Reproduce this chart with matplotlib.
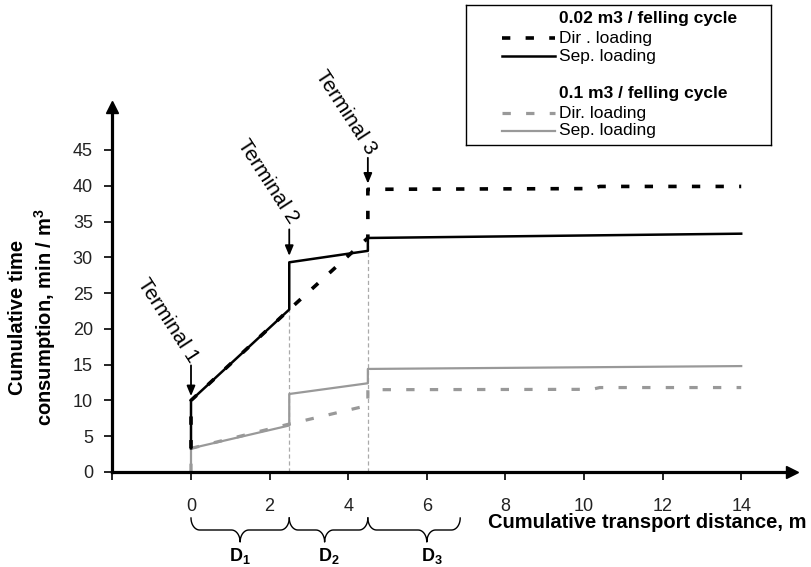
import numpy as np
import matplotlib
matplotlib.use('Agg')
import matplotlib.pyplot as plt
import matplotlib.transforms as mtransforms

plt.rcParams['font.family'] = ['Liberation Sans', 'DejaVu Sans']
plt.rcParams['mathtext.fontset'] = 'custom'
plt.rcParams['mathtext.rm'] = 'Liberation Sans'
plt.rcParams['mathtext.bf'] = 'Liberation Sans:bold'
plt.rcParams['lines.scale_dashes'] = False

# --- data (cumulative distance, m / cumulative time, min/m3) ---
x_sep = [0, 0, 2.5, 2.5, 4.5, 4.5, 14]
y_sep_002 = [3.3, 10, 22.7, 29.3, 30.9, 32.7, 33.3]
y_sep_01 = [0, 3.3, 6.5, 10.9, 12.4, 14.4, 14.8]

x_dir = [0, 0, 2.5, 4.5, 4.5, 10.2, 10.4, 14]
y_dir_002 = [3.3, 10, 22.7, 32.7, 39.5, 39.6, 39.9, 39.9]
y_dir_01 = [0, 3.3, 6.7, 9.3, 11.5, 11.55, 11.8, 11.8]

terminal_x = [2.5, 4.5]
terminal_top = [22.7, 32.7]

terminal_names = ['Terminal 1', 'Terminal 2', 'Terminal 3']
arrow_x = [0, 2.5, 4.5]
arrow_tail = [14.9, 33.9, 43.9]
arrow_tip = [10.6, 30.2, 40.3]
label_x = [-0.585, 1.96, 3.94]
label_y = [21.2, 40.6, 50.3]

brace_start = [0, 2.5, 4.5]
brace_end = [2.5, 4.5, 6.85]
brace_tip = [1.25, 3.4, 6.0]
brace_names = [r'$\mathbf{D_1}$', r'$\mathbf{D_2}$', r'$\mathbf{D_3}$']
brace_label_x = [1.25, 3.5, 6.13]

x_ticks = [-2, 0, 2, 4, 6, 8, 10, 12, 14]
x_ticklabels = ['', '0', '2', '4', '6', '8', '10', '12', '14']
y_ticks = [0, 5, 10, 15, 20, 25, 30, 35, 40, 45]

BLACK = '#000000'
GRAY = '#999999'
DASH = (0, (6, 11))

W, H = 812, 567
fig = plt.figure(figsize=(W / 100, H / 100), dpi=100)
ax = fig.add_axes([112.4 / W, 1 - 472 / H, (792.3 - 112.4) / W, 365 / H])

ax.vlines(terminal_x, 0, terminal_top, colors='#aaaaaa', linestyles=(0, (3, 2)),
          linewidth=0.9, zorder=1)

ax.plot(x_sep, y_sep_01, color=GRAY, lw=1.6, zorder=2)
ax.plot(x_dir, y_dir_01, color=GRAY, lw=2.3, ls=DASH, zorder=2)
ax.plot(x_sep, y_sep_002, color=BLACK, lw=1.8, zorder=3)
ax.plot(x_dir, y_dir_002, color=BLACK, lw=2.6, ls=DASH, zorder=3)

ax.set_xlim(-2, 15.3)
ax.set_ylim(0, 51)
ax.set_xticks(x_ticks)
ax.set_xticklabels(x_ticklabels)
ax.set_yticks(y_ticks)
ax.tick_params(axis='x', length=6, width=1.2, pad=12.5, labelsize=13, labelcolor='#222222')
ax.tick_params(axis='y', length=6, width=1.2, pad=8, labelsize=13, labelcolor='#222222')
for s in ['top', 'right']:
    ax.spines[s].set_visible(False)
for s in ['left', 'bottom']:
    ax.spines[s].set_linewidth(2.3)

# axis arrows
ax.plot(1, 0, '>', color='k', ms=8, transform=ax.transAxes, clip_on=False, zorder=5)
ax.plot(0, 1, '^', color='k', ms=8, transform=ax.transAxes, clip_on=False, zorder=5)

# terminal labels
for name, xa, t0, t1, lx, ly in zip(terminal_names, arrow_x, arrow_tail, arrow_tip, label_x, label_y):
    ax.annotate('', xy=(xa, t1), xytext=(xa, t0),
                arrowprops=dict(arrowstyle='-|>,head_length=0.6,head_width=0.25',
                                color='k', lw=1.3, shrinkA=0, shrinkB=0))
    ax.text(lx, ly, name, rotation=-57, rotation_mode='anchor', ha='center', va='center',
            fontsize=15, clip_on=False)

# braces under the x axis
trans = mtransforms.blended_transform_factory(ax.transData, fig.transFigure)


def brace(x0, x1, xm, r=0.22, top=1 - 518 / H, mid=1 - 530 / H, bot=1 - 542 / H):
    t = np.linspace(0, np.pi / 2, 12)
    d1 = top - mid
    d2 = mid - bot
    xs = np.concatenate([x0 + r - r * np.cos(t),
                         xm - r + r * np.sin(t),
                         xm + r - r * np.cos(t),
                         x1 - r + r * np.sin(t)])
    ys = np.concatenate([top - d1 * np.sin(t),
                         bot + d2 * np.cos(t),
                         bot + d2 * np.sin(t),
                         top - d1 * np.cos(t)])
    return xs, ys


for b0, b1, bm, name, nx in zip(brace_start, brace_end, brace_tip, brace_names, brace_label_x):
    bx, by = brace(b0, b1, bm)
    ax.plot(bx, by, color='k', lw=1.0, transform=trans, clip_on=False)
    ax.text(nx, 1 - 556 / H, name, transform=trans, ha='center', va='center', fontsize=13)

# axis titles
fig.text(33 / W, 1 - 317 / H, 'Cumulative time\nconsumption, min / m$^{\\mathbf{3}}$',
         rotation=90, ha='center', va='center', multialignment='center',
         fontsize=14.5, fontweight='bold', linespacing=1.25)
fig.text(807 / W, 1 - 523 / H, 'Cumulative transport distance, m', ha='right', va='center',
         fontsize=14.5, fontweight='bold')

# legend box
lax = fig.add_axes([466 / W, 1 - 145 / H, 305 / W, 140 / H])
lax.set_xlim(0, 305)
lax.set_ylim(140, 0)
lax.set_xticks([])
lax.set_yticks([])
for s in lax.spines.values():
    s.set_linewidth(1.0)

leg_rows = [13.3, 33.3, 51, 88.3, 108.3, 125.7]
leg_texts = ['0.02 m3 / felling cycle', 'Dir . loading', 'Sep. loading',
             '0.1 m3 / felling cycle', 'Dir. loading', 'Sep. loading']
leg_styles = [None, (BLACK, 2.6, DASH), (BLACK, 1.8, '-'),
              None, (GRAY, 2.3, DASH), (GRAY, 1.6, '-')]
for yy, txt, st in zip(leg_rows, leg_texts, leg_styles):
    if st is None:
        lax.text(93.3, yy, txt, fontsize=12.5, fontweight='bold', va='center')
    else:
        lax.plot([35.7, 89], [yy, yy], color=st[0], lw=st[1], ls=st[2])
        lax.text(93.3, yy, txt, fontsize=12.5, va='center')

fig.savefig('out.png', dpi=100)
